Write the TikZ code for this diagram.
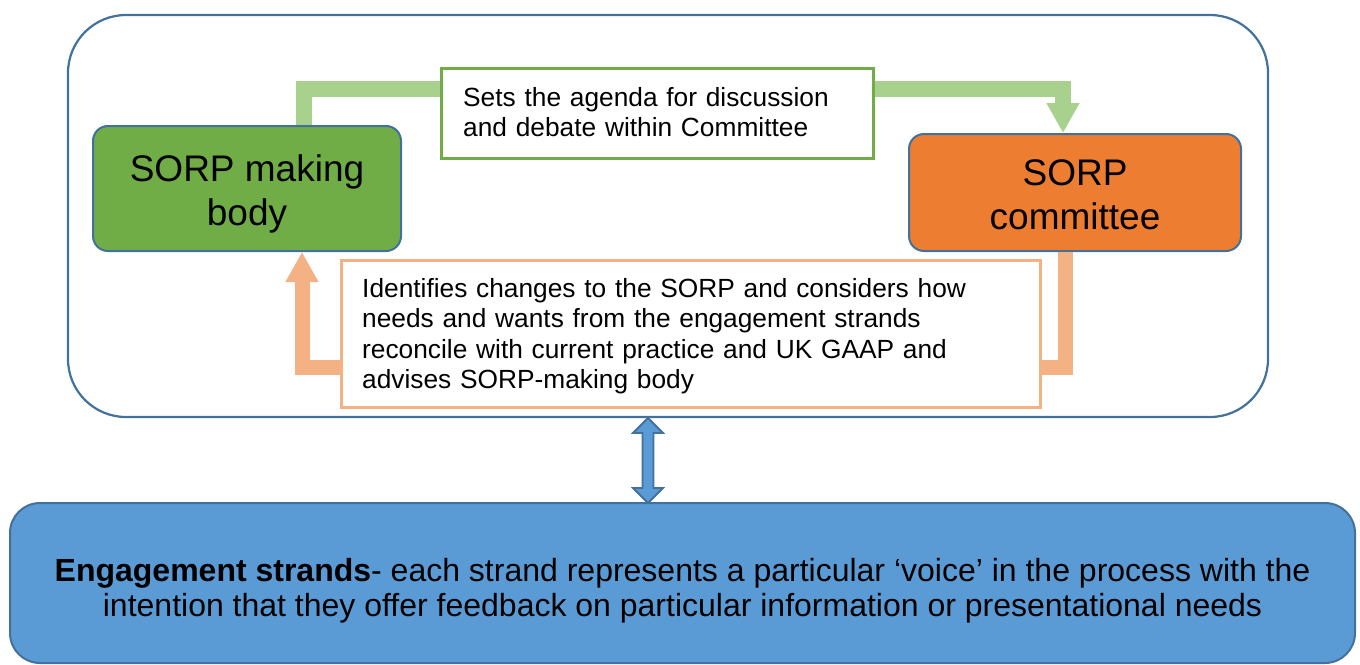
\documentclass[tikz,border=0pt]{standalone}
\usepackage{fontspec}
\setmainfont{Liberation Sans}
\usetikzlibrary{arrows.meta,calc}
\definecolor{bodygreen}{HTML}{70AD47}
\definecolor{comorange}{HTML}{ED7D31}
\definecolor{lightgreen}{HTML}{A9D18E}
\definecolor{lightorange}{HTML}{F4B183}
\definecolor{engblue}{HTML}{5B9BD5}
\definecolor{edgeblue}{HTML}{41719C}
\tikzset{
  outerbox/.style={draw=edgeblue, line width=2.2pt, rounded corners=58pt, fill=white},
  sorpbox/.style={draw=edgeblue, line width=2pt, rounded corners=15pt, inner sep=0pt},
  sorptext/.style={align=center, inner sep=0pt, font=\fontsize{37}{44}\selectfont},
  textbox/.style={fill=white, line width=3pt, inner sep=0pt},
  boxtext/.style={inner sep=0pt, align=left, anchor=base west, font=\fontsize{26.3}{30.5}\selectfont},
  engbox/.style={draw=edgeblue, fill=engblue, line width=2pt, rounded corners=30pt, inner sep=0pt},
  engtext/.style={align=center, inner sep=0pt, font=\fontsize{32}{35}\selectfont},
  flowgreen/.style={draw=lightgreen, line width=16pt, line join=miter,
    -{Triangle[width=31pt,length=30pt]}},
  floworange/.style={draw=lightorange, line width=15pt, line join=miter,
    -{Triangle[width=31pt,length=30pt]}},
  dblarrow/.style={draw=edgeblue, fill=engblue, line width=1.8pt, line join=miter}
}
\begin{document}
\begin{tikzpicture}[x=1pt,y=-1pt]
\useasboundingbox (0,0) rectangle (1360,664);
% outer frame
\node[outerbox, minimum width=1200pt, minimum height=402pt] (outer) at (668,216) {};
% main boxes
\node[sorpbox, fill=bodygreen, minimum width=308pt, minimum height=125pt] (making) at (247,188.5) {};
\node[sorptext] (makingtext) at ($(making.center)+(0,5)$) {SORP making\\body};
\node[sorpbox, fill=comorange, minimum width=332pt, minimum height=117pt] (committee) at (1075,192.5) {};
\node[sorptext] (committeetext) at ($(committee.center)+(0,2)$) {SORP\\committee};
% flow arrows
\draw[flowgreen] ([xshift=57pt]making.north) -- ++(0,-36) -| ([xshift=-12pt]committee.north);
\draw[floworange] ([xshift=-10pt]committee.south) -- ++(0,115) -| ([xshift=55pt]making.south);
% text boxes
\node[textbox, draw=bodygreen, minimum width=432pt, minimum height=90pt] (agenda) at (657,113) {};
\node[boxtext, text width=400pt] (agendatext) at (463,106)
  {Sets the agenda for discussion\\and debate within Committee};
\node[textbox, draw=lightorange, minimum width=699pt, minimum height=147pt] (identify) at (690.5,333.5) {};
\node[boxtext, text width=660pt] (identifytext) at (362,297)
  {Identifies changes to the SORP and considers how\\needs and wants from the engagement strands\\reconcile with current practice and UK GAAP and\\advises SORP-making body};
% engagement strands
\node[engbox, minimum width=1345pt, minimum height=160pt] (eng) at (682.5,583) {};
\node[engtext] (engtxt) at ($(eng.center)+(0,8)$)
  {\textbf{Engagement strands}- each strand represents a particular ‘voice’ in the process with the\\intention that they offer feedback on particular information or presentational needs};
% double arrow
\coordinate (dt) at (648,418);
\coordinate (db) at (648,503);
\draw[dblarrow] (dt) -- ($(dt)+(15,15)$) -- ($(dt)+(5.5,15)$) -- ($(db)+(5.5,-15)$) -- ($(db)+(15,-15)$)
  -- (db) -- ($(db)+(-15,-15)$) -- ($(db)+(-5.5,-15)$) -- ($(dt)+(-5.5,15)$) -- ($(dt)+(-15,15)$) -- cycle;
\end{tikzpicture}
\end{document}
